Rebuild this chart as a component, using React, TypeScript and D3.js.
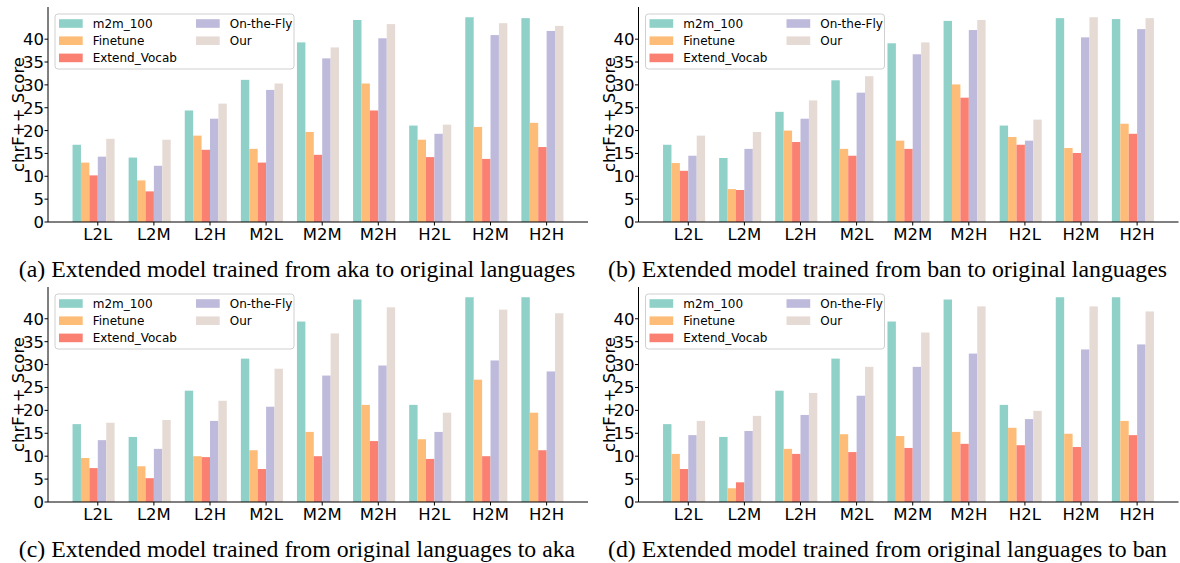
import React from "react";
import * as d3 from "d3";

// methods and translation directions
const methods = ["m2m_100", "Finetune", "Extend_Vocab", "On-the-Fly", "Our"];
const directions = ["L2L", "L2M", "L2H", "M2L", "M2M", "M2H", "H2L", "H2M", "H2H"];
const colors = ["#8fd1c8", "#fdbd78", "#fa8072", "#bebadb", "#e6dbd4"];
const yTicks = [0, 5, 10, 15, 20, 25, 30, 35, 40];

// (a) aka -> original languages, one row per method
const akaToOrig = [
  [16.9, 14.1, 24.4, 31.1, 39.3, 44.2, 21.1, 44.8, 44.6],
  [13.0, 9.1, 18.9, 16.0, 19.7, 30.3, 18.0, 20.8, 21.7],
  [10.2, 6.7, 15.8, 13.0, 14.7, 24.4, 14.2, 13.8, 16.4],
  [14.3, 12.3, 22.6, 28.9, 35.8, 40.2, 19.3, 40.9, 41.8],
  [18.2, 18.0, 25.9, 30.3, 38.2, 43.3, 21.3, 43.5, 42.9],
];

// (b) ban -> original languages
const banToOrig = [
  [16.9, 14.0, 24.1, 31.0, 39.1, 44.0, 21.1, 44.6, 44.4],
  [12.9, 7.2, 20.0, 16.0, 17.8, 30.1, 18.6, 16.2, 21.5],
  [11.2, 7.0, 17.5, 14.5, 16.0, 27.2, 16.9, 15.1, 19.3],
  [14.5, 16.0, 22.6, 28.3, 36.7, 42.0, 17.8, 40.4, 42.2],
  [18.9, 19.7, 26.6, 31.9, 39.3, 44.2, 22.4, 44.8, 44.6],
];

// (c) original languages -> aka
const origToAka = [
  [17.0, 14.2, 24.3, 31.3, 39.4, 44.2, 21.2, 44.7, 44.7],
  [9.6, 7.8, 10.0, 11.3, 15.3, 21.2, 13.7, 26.7, 19.5],
  [7.4, 5.2, 9.8, 7.2, 10.0, 13.3, 9.4, 10.0, 11.3],
  [13.5, 11.6, 17.7, 20.8, 27.6, 29.8, 15.3, 30.9, 28.5],
  [17.3, 17.9, 22.1, 29.1, 36.8, 42.5, 19.5, 42.0, 41.2],
];

// (d) original languages -> ban
const origToBan = [
  [17.0, 14.2, 24.3, 31.3, 39.4, 44.2, 21.2, 44.7, 44.7],
  [10.5, 3.0, 11.6, 14.8, 14.4, 15.3, 16.2, 14.9, 17.7],
  [7.2, 4.3, 10.5, 10.9, 11.8, 12.7, 12.4, 12.0, 14.6],
  [14.6, 15.5, 19.0, 23.2, 29.5, 32.4, 18.1, 33.3, 34.4],
  [17.7, 18.8, 23.8, 29.5, 37.0, 42.7, 19.9, 42.7, 41.6],
];

const captions = [
  "(a) Extended model trained from aka to original languages",
  "(b) Extended model trained from ban to original languages",
  "(c) Extended model trained from original languages to aka",
  "(d) Extended model trained from original languages to ban",
];

const W = 1180;
const H = 563;
const sans = "DejaVu Sans, sans-serif";
const tickSize = 16.5;

const Panel = ({ x0, y0, series, caption }) => {
  const left = x0 + 48;
  const top = y0 + 7;
  const pw = 540;
  const ph = 215;
  const barW = 0.15;

  // matplotlib-style 5% margins around the bars
  const lo = 0;
  const hi = directions.length - 1 + methods.length * barW;
  const pad = (hi - lo) * 0.05;
  const x = d3.scaleLinear().domain([lo - pad, hi + pad]).range([left, left + pw]);
  const ymax = d3.max(series.flat()) * 1.05;
  const y = d3.scaleLinear().domain([0, ymax]).range([top + ph, top]);
  const bw = x(barW) - x(0);

  return (
    <g>
      {series.map((vals, j) => (
        <g key={j} fill={colors[j]}>
          {vals.map((v, i) => (
            <rect key={i} x={x(i + j * barW)} y={y(v)} width={bw} height={y(0) - y(v)} />
          ))}
        </g>
      ))}

      {/* axes */}
      <line x1={left} x2={left} y1={top} y2={top + ph} stroke="#000" strokeWidth={1} />
      <line x1={left} x2={left + pw} y1={top + ph} y2={top + ph} stroke="#000" strokeWidth={1} />
      {yTicks.map(t => (
        <g key={t}>
          <line x1={left - 3.5} x2={left} y1={y(t)} y2={y(t)} stroke="#000" />
          <text x={left - 4} y={y(t)} dy="0.36em" textAnchor="end" fontSize={tickSize} fontFamily={sans}>{t}</text>
        </g>
      ))}
      {directions.map((d, i) => (
        <g key={d}>
          <line x1={x(i + 3 * barW)} x2={x(i + 3 * barW)} y1={top + ph} y2={top + ph + 3.5} stroke="#000" />
          <text x={x(i + 3 * barW)} y={top + ph + 17.5} textAnchor="middle" fontSize={tickSize} fontFamily={sans}>{d}</text>
        </g>
      ))}
      <text
        transform={`translate(${x0 + 24},${top + ph / 2}) rotate(-90)`}
        textAnchor="middle"
        fontSize={tickSize}
        fontFamily={sans}
      >
        chrF++ Score
      </text>

      {/* legend */}
      <rect x={left + 7} y={top + 7} width={239} height={55} rx={3} fill="#fff" fillOpacity={0.8} stroke="#d0d0d0" />
      {methods.map((m, j) => {
        const col = j < 3 ? 0 : 1;
        const row = j < 3 ? j : j - 3;
        const hx = left + (col === 0 ? 11 : 148);
        const cy = top + 16.5 + row * 17.2;
        return (
          <g key={m}>
            <rect x={hx} y={cy - 4.3} width={23.7} height={8.6} fill={colors[j]} />
            <text x={hx + 33.7} y={cy} dy="0.36em" fontSize={12} fontFamily={sans}>{m}</text>
          </g>
        );
      })}

      <text x={x0 + 297} y={y0 + 277} textAnchor="middle" fontSize={23.8} fontFamily="Liberation Serif, serif">
        {caption}
      </text>
    </g>
  );
};

export default function App() {
  const panels = [
    { x0: 0, y0: 0, series: akaToOrig },
    { x0: 590.5, y0: 0, series: banToOrig },
    { x0: 0, y0: 280, series: origToAka },
    { x0: 590.5, y0: 280, series: origToBan },
  ];
  return (
    <div style={{ position: "absolute", left: 0, top: 0 }}>
      <svg width={W} height={H} style={{ display: "block", background: "#fff" }}>
        {panels.map((p, k) => (
          <Panel key={k} x0={p.x0} y0={p.y0} series={p.series} caption={captions[k]} />
        ))}
      </svg>
    </div>
  );
}
